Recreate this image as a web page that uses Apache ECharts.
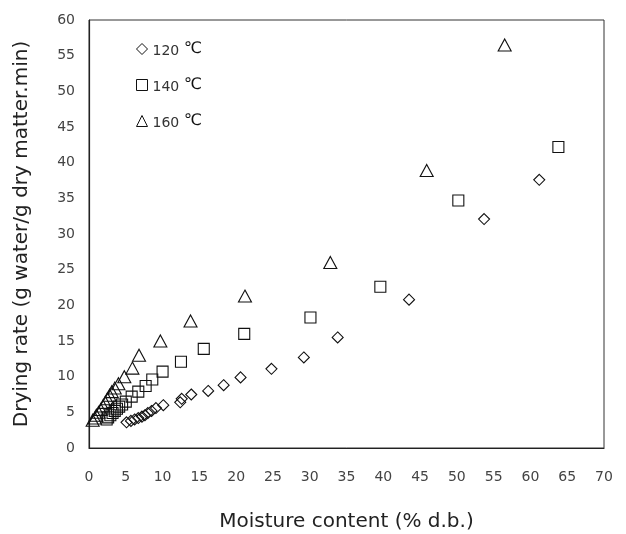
<!DOCTYPE html>
<html>
<head>
<meta charset="utf-8">
<script src="https://cdn.jsdelivr.net/npm/echarts@6/dist/echarts.min.js"></script>
<style>html,body{margin:0;padding:0;background:#fff;}#c{width:626px;height:534px;}</style>
</head>
<body>
<div id="c"></div>
<script>
// Moisture content (% d.b.) vs drying rate
var series120 = [[5.1,3.6],[5.7,3.8],[6.2,4.0],[6.7,4.2],[7.2,4.4],[7.6,4.6],[8.0,4.9],[8.5,5.2],[9.1,5.6],[10.1,6.0],[12.4,6.4],[12.6,6.9],[13.9,7.5],[16.2,8.0],[18.3,8.8],[20.6,9.9],[24.8,11.1],[29.2,12.7],[33.8,15.5],[43.5,20.8],[53.7,32.1],[61.2,37.6]];
var series140 = [[2.4,4.0],[2.6,4.3],[2.9,4.6],[3.2,4.9],[3.5,5.2],[3.8,5.5],[4.1,5.8],[4.5,6.1],[5.0,6.5],[5.8,7.2],[6.7,7.9],[7.7,8.7],[8.6,9.6],[10.0,10.7],[12.5,12.1],[15.6,13.9],[21.1,16.0],[30.1,18.3],[39.6,22.6],[50.2,34.7],[63.8,42.2]];
var series160 = [[0.5,3.9],[0.8,4.2],[1.0,4.6],[1.3,5.0],[1.6,5.4],[1.9,5.9],[2.2,6.4],[2.5,6.9],[2.8,7.4],[3.1,7.9],[3.5,8.4],[4.0,9.0],[4.8,10.0],[5.9,11.2],[6.8,13.0],[9.7,15.0],[13.8,17.8],[21.2,21.3],[32.8,26.0],[45.9,38.9],[56.5,56.5]];
var seriesNames = ['120','140','160'];
var unit = '℃';
var xName = 'Moisture content (% d.b.)';
var yName = 'Drying rate (g water/g dry matter.min)';

var font = '"DejaVu Sans", "Noto Sans", sans-serif';
var chart = echarts.init(document.getElementById('c'), null, {renderer:'canvas'});
function mk(name, data, symbol, size){
  return {
    name: name, type: 'scatter', data: data, symbol: symbol, symbolSize: size,
    itemStyle: {color: 'rgba(0,0,0,0)', borderColor: '#111', borderWidth: 1.1, opacity: 1},
    emphasis: {disabled: true}
  };
}
chart.setOption({
  animation: false,
  backgroundColor: '#fff',
  grid: {left: 89, right: 22, top: 20, bottom: 86, show: true, borderColor: '#333', borderWidth: 1, outerBoundsMode: 'none', containLabel: false},
  legend: {
    orient: 'vertical', left: 131, top: 36, itemGap: 19,
    itemWidth: 11, itemHeight: 11,
    data: seriesNames,
    itemStyle: {color: 'rgba(0,0,0,0)', borderColor: '#111', borderWidth: 1},
    formatter: function(n){ return '{n|' + n + ' }{u|' + unit + '}'; },
    textStyle: {fontFamily: font, fontSize: 14, color: '#333',
      rich: {n: {fontFamily: font, fontSize: 14, color: '#333', padding: [4,0,0,0]}, u: {fontFamily: font, fontSize: 16, color: '#111'}}}
  },
  xAxis: {
    type: 'value', min: 0, max: 70, interval: 5,
    name: xName, nameLocation: 'middle', nameGap: 64,
    nameTextStyle: {fontFamily: font, fontSize: 20, color: '#222'},
    axisLine: {show: true, lineStyle: {color: '#222', width: 1.2}},
    axisTick: {show: false},
    splitLine: {show: false},
    axisLabel: {margin: 22, fontFamily: font, fontSize: 14, color: '#444'}
  },
  yAxis: {
    type: 'value', min: 0, max: 60, interval: 5,
    name: yName, nameLocation: 'middle', nameGap: 57,
    nameTextStyle: {fontFamily: font, fontSize: 20, color: '#222'},
    axisLine: {show: true, lineStyle: {color: '#222', width: 1.2}},
    axisTick: {show: false},
    splitLine: {show: false},
    axisLabel: {margin: 14, fontFamily: font, fontSize: 14, color: '#444'}
  },
  series: [
    mk(seriesNames[0], series120, 'diamond', [11,11]),
    mk(seriesNames[1], series140, 'rect', [11,11]),
    mk(seriesNames[2], series160, 'triangle', [13,12])
  ]
});
</script>
</body>
</html>
